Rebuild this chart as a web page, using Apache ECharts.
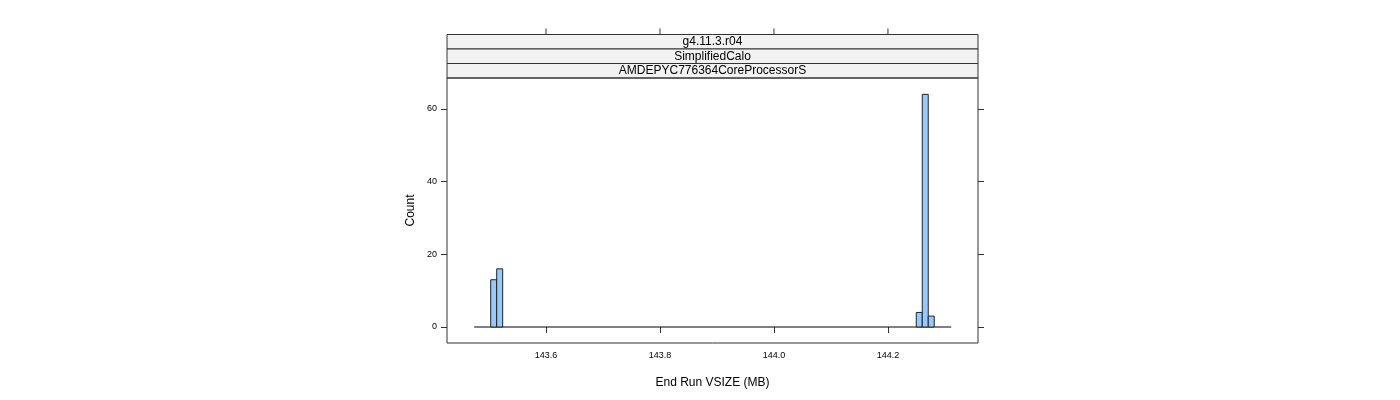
<!DOCTYPE html>
<html><head><meta charset="utf-8">
<script src="https://cdn.jsdelivr.net/npm/echarts@6/dist/echarts.min.js"></script>
<style>html,body{margin:0;padding:0;background:#fff}#c{width:1400px;height:400px}</style>
</head><body><div id="c"></div>
<script>
const binStarts = [143.503, 143.5135, 144.2497, 144.2602, 144.2707];
const binWidth = 0.0105;
const counts = [13, 16, 4, 64, 3];
const baseline = [[143.474, 0], [144.311, 0]];
const xTicks = [143.6, 143.8, 144.0, 144.2];
const yTicks = [0, 20, 40, 60];
const strips = ['g4.11.3.r04', 'SimplifiedCalo', 'AMDEPYC776364CoreProcessorS'];

const chart = echarts.init(document.getElementById('c'));
const L = 447, T = 78, W = 531, H = 265, SH = 14.5;
const gfx = [];
strips.forEach((s, i) => {
  const y = T - SH * (strips.length - i);
  gfx.push({type:'rect', shape:{x:L, y:y, width:W, height:SH}, style:{fill:'#f2f2f2', stroke:'#333', lineWidth:1}});
  gfx.push({type:'text', x:L+W/2, y:y+SH/2, style:{text:s, fill:'#000', font:'12px Liberation Sans, Arial', align:'center', verticalAlign:'middle'}});
});
chart.setOption({
  animation:false,
  grid:{left:L, top:T, width:W, height:H},
  xAxis:[{type:'value', min:143.4263, max:144.358, position:'bottom',
    axisLine:{show:false}, splitLine:{show:false},
    axisTick:{customValues:xTicks, length:6, lineStyle:{color:'#333'}},
    axisLabel:{customValues:xTicks, formatter:v=>v.toFixed(1), fontSize:9, color:'#000', fontFamily:'Liberation Sans', margin:8},
    name:'End Run VSIZE (MB)', nameLocation:'middle', nameGap:34, nameTextStyle:{fontSize:12, color:'#000', fontFamily:'Liberation Sans'}}],
  yAxis:[{type:'value', min:-4.4, max:68.5,
    axisLine:{show:false}, splitLine:{show:false},
    axisTick:{customValues:yTicks, length:6, lineStyle:{color:'#333'}},
    axisLabel:{customValues:yTicks, fontSize:9, color:'#000', fontFamily:'Liberation Sans', margin:10},
    name:'Count', nameLocation:'middle', nameGap:30, nameTextStyle:{fontSize:12, color:'#000', fontFamily:'Liberation Sans'}},
   {type:'value', min:-4.4, max:68.5, position:'right',
    axisLine:{show:false}, splitLine:{show:false},
    axisTick:{customValues:yTicks, length:6, lineStyle:{color:'#333'}},
    axisLabel:{show:false}}],
  graphic:gfx.concat([
    {type:'rect', shape:{x:L, y:T, width:W, height:H}, style:{fill:'none', stroke:'#333', lineWidth:1}, z:10}
  ]),
  series:[
    {type:'line', data:baseline, symbol:'none', lineStyle:{color:'#000', width:1}, z:1},
    {type:'custom', z:3,
     data: binStarts.map((b,i)=>[b, b+binWidth, counts[i]]),
     renderItem:(p, api)=>{
       const a = api.coord([api.value(0), 0]), b = api.coord([api.value(1), api.value(2)]);
       return {type:'rect', shape:{x:a[0], y:b[1], width:b[0]-a[0], height:a[1]-b[1]},
         style:{fill:'#99c8ff', stroke:'#222', lineWidth:1}};
     }},
    {type:'custom', z:2, data: xTicks.map(v=>[v]),
     renderItem:(p, api)=>{
       const a = api.coord([api.value(0), 0]);
       const top = T - SH*strips.length;
       return {type:'line', shape:{x1:a[0], y1:top-6, x2:a[0], y2:top}, style:{stroke:'#333', lineWidth:1}};
     }, clip:false}
  ]
});
</script></body></html>
